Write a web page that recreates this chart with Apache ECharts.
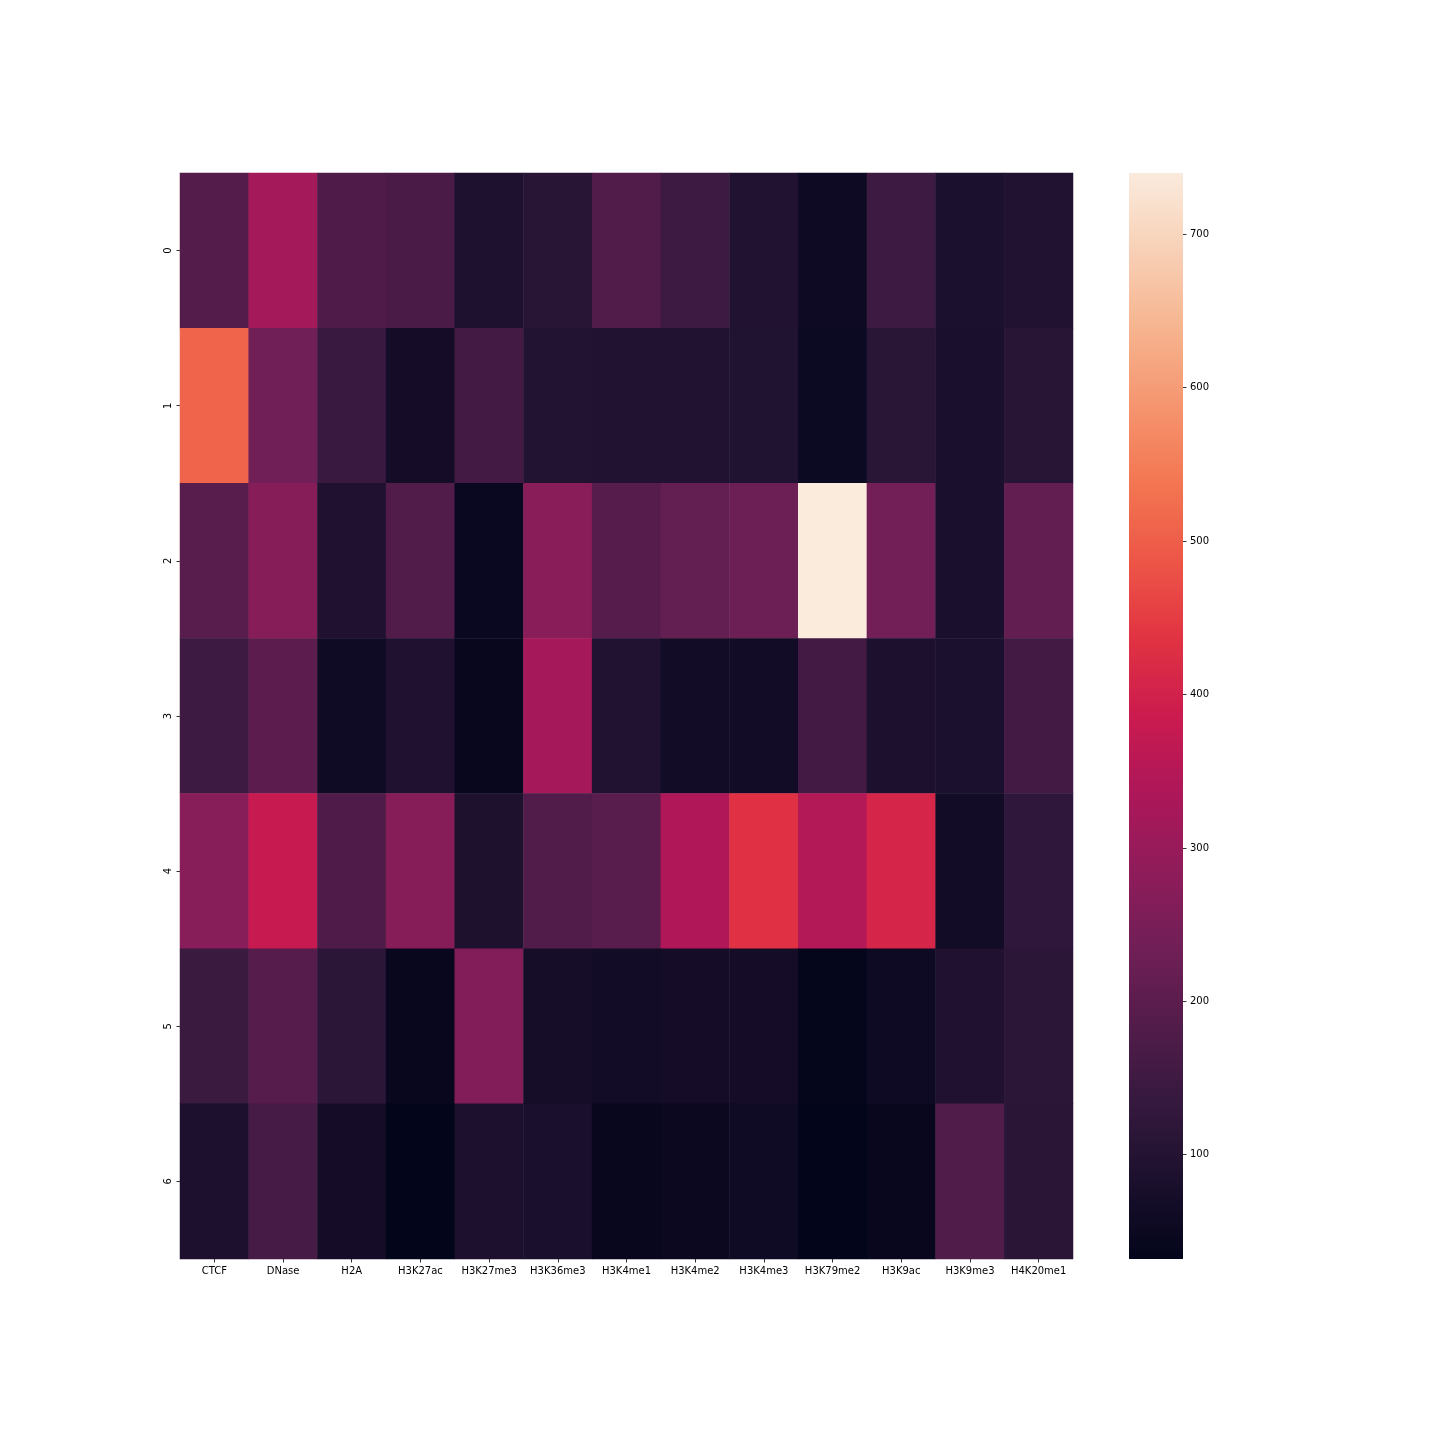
<!DOCTYPE html>
<html>
<head>
    <meta charset="UTF-8">
    <title>heatmap</title>
    <script src="https://cdn.jsdelivr.net/npm/echarts@6/dist/echarts.min.js"></script>
    <style>
        html, body { margin: 0; padding: 0; background: #fff; }
        #chart { width: 1440px; height: 1440px; }
    </style>
</head>
<body>
    <div id="chart"></div>
    <script>
        // 列：各类标记
        const marks = ['CTCF', 'DNase', 'H2A', 'H3K27ac', 'H3K27me3', 'H3K36me3', 'H3K4me1',
            'H3K4me2', 'H3K4me3', 'H3K79me2', 'H3K9ac', 'H3K9me3', 'H4K20me1'];
        const rowLabels = ['0', '1', '2', '3', '4', '5', '6'];

        // 每行的数值
        const row0 = [185, 320, 178, 172, 88, 108, 182, 145, 95, 55, 145, 82, 92];
        const row1 = [510, 235, 140, 70, 155, 97, 95, 92, 93, 52, 110, 80, 108];
        const row2 = [193, 270, 90, 183, 47, 275, 190, 213, 228, 740, 238, 80, 210];
        const row3 = [145, 200, 60, 90, 42, 322, 92, 65, 63, 158, 85, 82, 155];
        const row4 = [272, 378, 178, 270, 87, 182, 193, 340, 432, 345, 408, 65, 120];
        const row5 = [143, 190, 115, 42, 265, 72, 63, 70, 70, 36, 55, 90, 115];
        const row6 = [85, 162, 70, 32, 85, 80, 42, 48, 58, 33, 42, 180, 112];
        const rowsData = [row0, row1, row2, row3, row4, row5, row6];

        const cbarTicks = [100, 200, 300, 400, 500, 600, 700];

        // rocket 色带（均匀分布的色标）
        const rocket = ['#03051a', '#1b102d', '#35193e', '#521c4a', '#701f57', '#8f1c5a', '#ad1759',
            '#cb1b4f', '#e13342', '#ed5647', '#f37651', '#f5956f', '#f6b48f', '#f8d0b6', '#faebdd'];

        const cells = [];
        rowsData.forEach((r, yi) => {
            r.forEach((v, xi) => cells.push([xi, yi, v]));
        });
        const vMin = Math.min(...cells.map(c => c[2]));
        const vMax = Math.max(...cells.map(c => c[2]));

        const labelFont = { fontFamily: 'DejaVu Sans', fontSize: 10, color: '#000' };

        // 色条：与 visualMap 相同的线性插值
        const cbarStops = rocket.map((c, i) => ({ offset: i / (rocket.length - 1), color: c }));

        const chart = echarts.init(document.getElementById('chart'));
        chart.setOption({
            backgroundColor: '#fff',
            animation: false,
            grid: [
                { left: 180, top: 173, width: 893, height: 1086 },
                { left: 1129, top: 173, width: 54, height: 1086 }
            ],
            graphic: [{
                type: 'rect',
                left: 1129, top: 173,
                shape: { width: 54, height: 1086 },
                style: {
                    fill: { type: 'linear', x: 0, y: 1, x2: 0, y2: 0, colorStops: cbarStops }
                },
                silent: true
            }],
            xAxis: [
                {
                    type: 'category', data: marks, gridIndex: 0,
                    axisLine: { show: false },
                    axisTick: { show: true, alignWithLabel: true, length: 3.5, lineStyle: { color: '#000', width: 0.8 } },
                    axisLabel: Object.assign({ margin: 7, interval: 0 }, labelFont),
                    splitLine: { show: false }
                },
                { type: 'value', gridIndex: 1, show: false, min: 0, max: 1 }
            ],
            yAxis: [
                {
                    type: 'category', data: rowLabels, gridIndex: 0, inverse: true,
                    axisLine: { show: false },
                    axisTick: { show: true, alignWithLabel: true, length: 3.5, lineStyle: { color: '#000', width: 0.8 } },
                    axisLabel: Object.assign({ margin: 7, rotate: 90 }, labelFont),
                    splitLine: { show: false }
                },
                {
                    type: 'value', gridIndex: 1, position: 'right', min: vMin, max: vMax,
                    axisLine: { show: false, onZero: false },
                    axisTick: { show: true, length: 3.5, customValues: cbarTicks, lineStyle: { color: '#000', width: 0.8 } },
                    axisLabel: Object.assign({ margin: 7, customValues: cbarTicks }, labelFont),
                    splitLine: { show: false }
                }
            ],
            visualMap: {
                type: 'continuous',
                show: false,
                min: vMin, max: vMax,
                dimension: 2,
                seriesIndex: 0,
                inRange: { color: rocket }
            },
            series: [{
                type: 'heatmap',
                xAxisIndex: 0, yAxisIndex: 0,
                data: cells,
                itemStyle: { borderWidth: 0 },
                emphasis: { disabled: true },
                label: { show: false }
            }]
        });
    </script>
</body>
</html>
